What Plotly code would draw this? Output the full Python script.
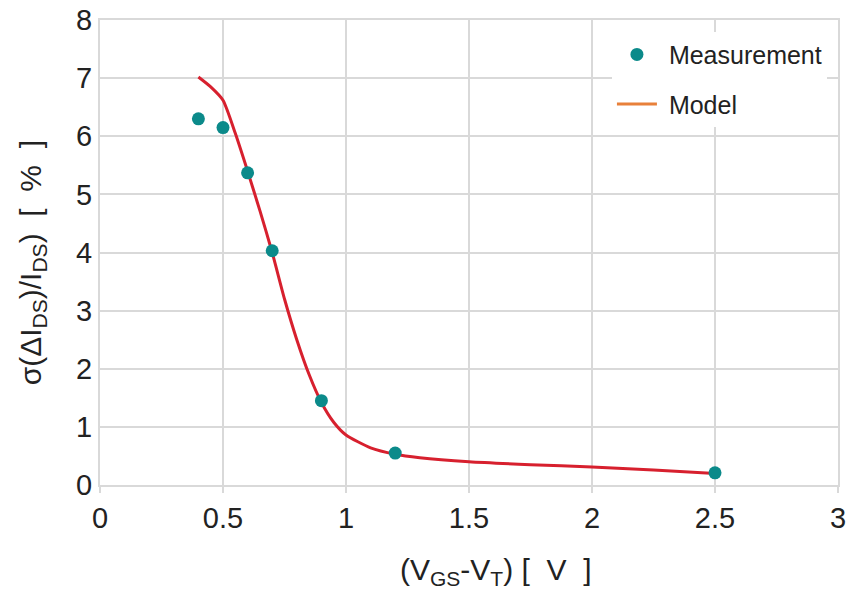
import plotly.graph_objects as go

# Measurement data
meas_x = [0.4, 0.5, 0.6, 0.7, 0.9, 1.2, 2.5]
meas_y = [6.30, 6.15, 5.37, 4.03, 1.45, 0.55, 0.21]

# Model curve
model_x = [0.4, 0.45, 0.5, 0.55, 0.6, 0.65, 0.7, 0.75, 0.8, 0.85, 0.9, 0.95, 1.0,
           1.1, 1.2, 1.3, 1.5, 1.75, 2.0, 2.25, 2.5]
model_y = [7.02, 6.85, 6.62, 6.05, 5.40, 4.72, 4.00, 3.20, 2.50, 1.90, 1.42, 1.08, 0.86,
           0.64, 0.53, 0.47, 0.40, 0.35, 0.31, 0.26, 0.20]

x_ticks = [0, 0.5, 1, 1.5, 2, 2.5, 3]
x_tick_labels = ["0", "0.5", "1", "1.5", "2", "2.5", "3"]
y_ticks = [0, 1, 2, 3, 4, 5, 6, 7, 8]

GRID = "#d9d9d9"
FONT = "Liberation Sans, Arial, sans-serif"
TXT = "#222222"

fig = go.Figure()
fig.add_trace(go.Scatter(x=model_x, y=model_y, mode="lines",
                         line=dict(color="#d7202e", width=3, shape="spline", smoothing=0.6),
                         showlegend=False, hoverinfo="skip"))
fig.add_trace(go.Scatter(x=meas_x, y=meas_y, mode="markers", name="\u00a0Measurement",
                         marker=dict(color="#0b8a8a", size=13), legendgroup="a"))
fig.add_trace(go.Scatter(x=[None], y=[None], mode="lines", name="\u00a0Model",
                         line=dict(color="#e8803a", width=3), legendgroup="b"))

fig.update_layout(
    width=847, height=591,
    margin=dict(l=100, r=9, t=20, b=106, autoexpand=False),
    paper_bgcolor="white", plot_bgcolor="white",
    font=dict(family=FONT, color=TXT),
    showlegend=True,
    legend=dict(x=0.985, y=0.975, xanchor="right", yanchor="top",
                bgcolor="white", font=dict(size=25, family=FONT, color=TXT),
                tracegroupgap=14, itemwidth=40),
    xaxis=dict(range=[0, 3], tickvals=x_ticks, ticktext=x_tick_labels,
               showgrid=True, gridcolor=GRID, gridwidth=2,
               showline=True, linecolor=GRID, linewidth=2, mirror=True,
               ticks="outside", ticklen=6, tickcolor=GRID, tickwidth=2,
               tickfont=dict(size=29, family=FONT, color=TXT),
               zeroline=False, automargin=False, ticklabeloverflow="allow"),
    yaxis=dict(range=[0, 8], tickvals=y_ticks,
               showgrid=True, gridcolor=GRID, gridwidth=2,
               showline=True, linecolor=GRID, linewidth=2, mirror=True,
               ticks="", ticklen=0,
               tickfont=dict(size=29, family=FONT, color=TXT),
               zeroline=False, automargin=False, ticklabeloverflow="allow"),
    annotations=[
        dict(text="(V<sub>GS</sub>-V<sub>T</sub>) [&nbsp; V&nbsp; ]", xref="paper", yref="paper",
             x=0.536, y=-0.187, xanchor="center", yanchor="middle", showarrow=False,
             font=dict(size=30, family=FONT, color=TXT)),
        dict(text="σ(ΔI<sub>DS</sub>)/I<sub>DS</sub>)&nbsp; [&nbsp; %&nbsp; ]", xref="paper", yref="paper",
             x=-0.092, y=0.477, xanchor="center", yanchor="middle", showarrow=False,
             textangle=-90, font=dict(size=30, family=FONT, color=TXT)),
    ],
)

fig.write_html("out.html", config={"displayModeBar": False},
               post_script="document.body.style.margin='0';")
